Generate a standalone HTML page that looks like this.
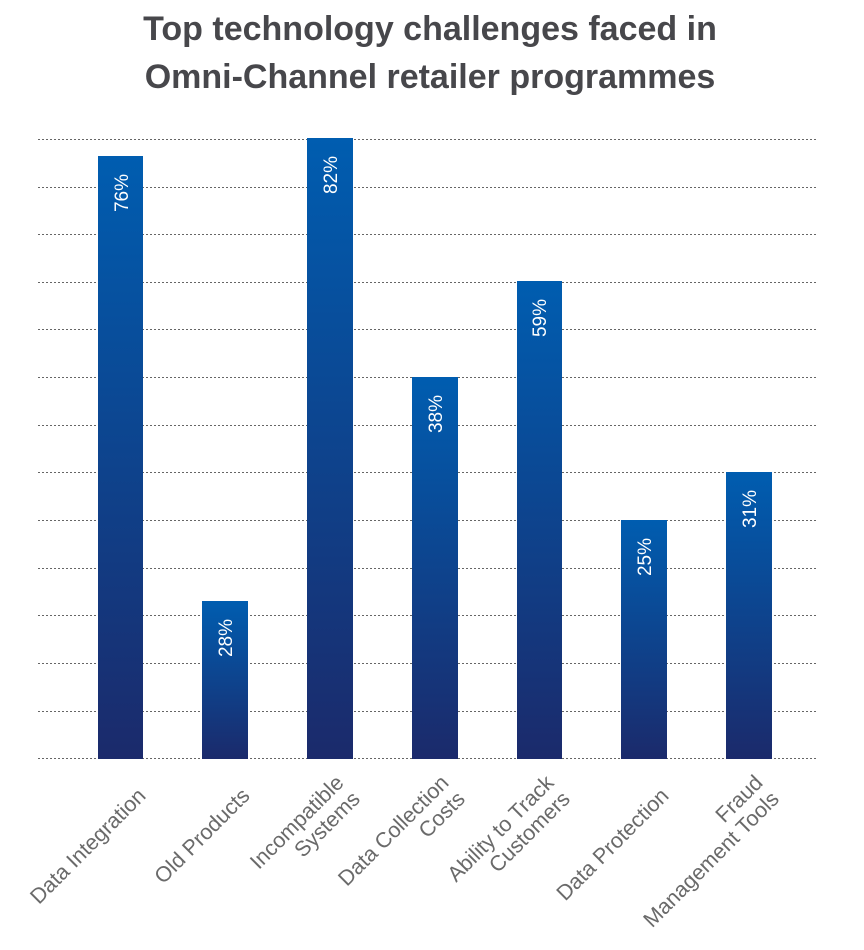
<!DOCTYPE html>
<html><head><meta charset="utf-8"><style>
body{margin:0;background:#fff;}
</style></head><body>
<svg width="864" height="945" xmlns="http://www.w3.org/2000/svg" font-family="Liberation Sans, sans-serif">
<defs>
<linearGradient id="g" x1="0" y1="0" x2="0" y2="1"><stop offset="0" stop-color="#005db0"/><stop offset="1" stop-color="#1b2a6b"/></linearGradient>
</defs>
<text x="430" y="40" text-anchor="middle" font-size="34" font-weight="bold" fill="#47474b">Top technology challenges faced in</text>
<text x="430" y="88" text-anchor="middle" font-size="34" font-weight="bold" fill="#47474b">Omni-Channel retailer programmes</text>
<g stroke="#666" stroke-width="1" stroke-dasharray="2,2">
<line x1="38" x2="818" y1="139.5" y2="139.5"/><line x1="38" x2="818" y1="187.5" y2="187.5"/><line x1="38" x2="818" y1="234.5" y2="234.5"/><line x1="38" x2="818" y1="282.5" y2="282.5"/><line x1="38" x2="818" y1="329.5" y2="329.5"/><line x1="38" x2="818" y1="377.5" y2="377.5"/><line x1="38" x2="818" y1="425.5" y2="425.5"/><line x1="38" x2="818" y1="472.5" y2="472.5"/><line x1="38" x2="818" y1="520.5" y2="520.5"/><line x1="38" x2="818" y1="568.5" y2="568.5"/><line x1="38" x2="818" y1="615.5" y2="615.5"/><line x1="38" x2="818" y1="663.5" y2="663.5"/><line x1="38" x2="818" y1="711.5" y2="711.5"/><line x1="38" x2="818" y1="758.5" y2="758.5"/>
</g>
<g fill="url(#g)">
<rect x="98" y="156" width="45" height="603"/>
<rect x="202" y="601" width="46" height="158"/>
<rect x="307" y="138" width="46" height="621"/>
<rect x="412" y="377" width="46" height="382"/>
<rect x="517" y="281" width="45" height="478"/>
<rect x="621" y="520" width="46" height="239"/>
<rect x="726" y="472" width="46" height="287"/>
</g>
<g fill="#fff" font-size="19" text-anchor="end">
<text transform="translate(128,174) rotate(-90)">76%</text>
<text transform="translate(232,619) rotate(-90)">28%</text>
<text transform="translate(337,156) rotate(-90)">82%</text>
<text transform="translate(442,395) rotate(-90)">38%</text>
<text transform="translate(546,299) rotate(-90)">59%</text>
<text transform="translate(651,538) rotate(-90)">25%</text>
<text transform="translate(756,490) rotate(-90)">31%</text>
</g>
<g fill="#6a6a6a" font-size="21.5" text-anchor="end">
<text transform="translate(147,797) rotate(-45)">Data Integration</text>
<text transform="translate(251,797) rotate(-45)">Old Products</text>
<text transform="translate(345,784) rotate(-45)">Incompatible<tspan x="0" dy="23">Systems</tspan></text>
<text transform="translate(450,784) rotate(-45)">Data Collection<tspan x="0" dy="23">Costs</tspan></text>
<text transform="translate(555,784) rotate(-45)">Ability to Track<tspan x="0" dy="23">Customers</tspan></text>
<text transform="translate(670,797) rotate(-45)">Data Protection</text>
<text transform="translate(764,784) rotate(-45)">Fraud<tspan x="0" dy="23">Management Tools</tspan></text>
</g>
</svg>
</body></html>
